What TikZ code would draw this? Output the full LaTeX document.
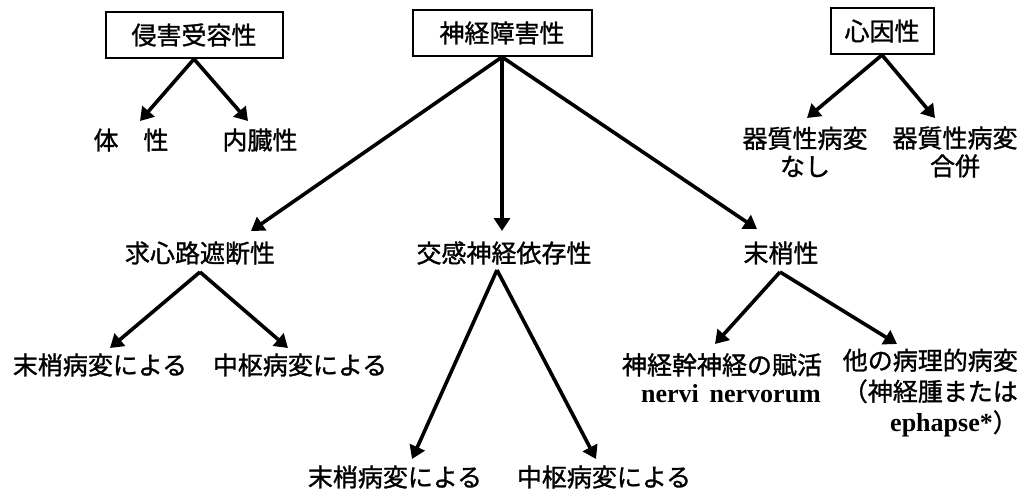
\documentclass[tikz,border=0pt]{standalone}
\usepackage{fontspec}
\setmainfont{Noto Sans CJK JP}[RawFeature={embolden=1.2}]
\newfontfamily\latinserif{Liberation Serif}
\usetikzlibrary{arrows.meta}
\begin{document}
\begin{tikzpicture}[x=1pt,y=-1pt,
  every node/.style={font=\fontsize{25}{28}\selectfont},
  box/.style={draw,line width=2pt,minimum height=46pt,inner sep=0pt},
  lbl/.style={inner sep=0pt},
  arr/.style={line width=3.6pt,-{Triangle[length=13pt,width=16pt]}}]
\useasboundingbox (0,0) rectangle (1027,491);
% top boxes
\node[box,minimum width=177pt] (noc) at (194,35) {侵害受容性};
\node[box,minimum width=179pt] (neu) at (502,33) {神経障害性};
\node[box,minimum width=103pt] (psy) at (882,31) {心因性};
% nociceptive
\node[lbl] (som) at (131,140) {体　性};
\node[lbl] (vis) at (260,140) {内臓性};
\coordinate (somT) at (140,121);
\coordinate (visT) at (248,121);
\draw[arr] (noc.south) -- (somT);
\draw[arr] (noc.south) -- (visT);
% psychogenic
\node[lbl,align=center] (noorg) at (805,152) {器質性病変\\なし};
\node[lbl,align=center] (org) at (955,152) {器質性病変\\合併};
\coordinate (noorgT) at (807,118);
\coordinate (orgT) at (935,118);
\draw[arr] (psy.south) -- (noorgT);
\draw[arr] (psy.south) -- (orgT);
% neuropathic
\node[lbl] (deaf) at (200,253) {求心路遮断性};
\node[lbl] (symp) at (504,253) {交感神経依存性};
\node[lbl] (peri) at (781,253) {末梢性};
\coordinate (deafT) at (251,231);
\coordinate (sympT) at (502,231);
\coordinate (periT) at (757,229);
\draw[arr] (neu.south) -- (deafT);
\draw[arr] (neu.south) -- (sympT);
\draw[arr] (neu.south) -- (periT);
% deafferentation
\node[lbl] (dp) at (100,365) {末梢病変による};
\node[lbl] (dc) at (300,365) {中枢病変による};
\coordinate (deafA) at (200,272);
\coordinate (dpT) at (110,348);
\coordinate (dcT) at (288,348);
\draw[arr] (deafA) -- (dpT);
\draw[arr] (deafA) -- (dcT);
% sympathetically maintained
\node[lbl] (sp) at (395,477) {末梢病変による};
\node[lbl] (sc) at (604,477) {中枢病変による};
\coordinate (sympA) at (497,270);
\coordinate (spT) at (412,459);
\coordinate (scT) at (596,459);
\draw[arr] (sympA) -- (spT);
\draw[arr] (sympA) -- (scT);
% peripheral
\node[lbl,align=center] (nn) at (722,378) {神経幹神経の賦活\\{\latinserif\bfseries\fontsize{26}{28}\selectfont\hspace*{18pt}nervi\, nervorum}};
\node[lbl,align=right,anchor=east,font=\fontsize{25}{31}\selectfont] (oth) at (1018,393) {他の病理的病変\\（神経腫または\\{\latinserif\bfseries\fontsize{26}{31}\selectfont ephapse*}）};
\coordinate (periA) at (780,272);
\coordinate (nnT) at (715,344);
\coordinate (othT) at (897,344);
\draw[arr] (periA) -- (nnT);
\draw[arr] (periA) -- (othT);
\end{tikzpicture}
\end{document}
